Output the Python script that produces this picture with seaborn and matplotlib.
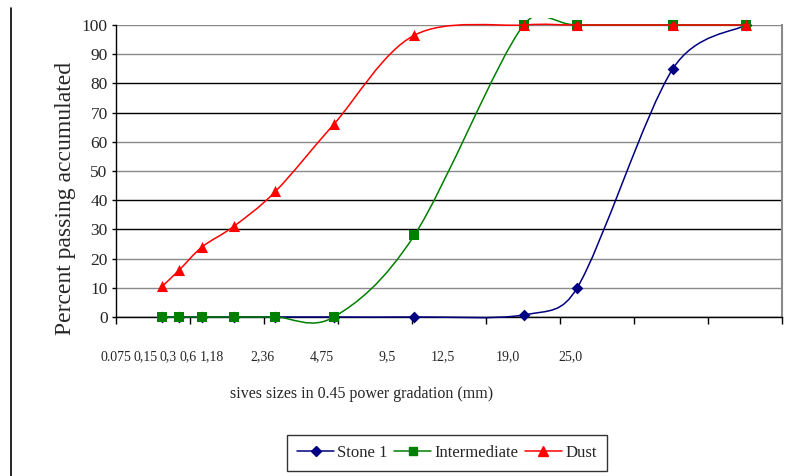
import numpy as np
import matplotlib
matplotlib.use('Agg')
import matplotlib.pyplot as plt
from matplotlib.path import Path
from matplotlib.patches import PathPatch, Rectangle
from matplotlib.lines import Line2D
from matplotlib.ticker import FixedLocator, NullFormatter
import seaborn as sns

# sieve sizes (mm) and percent passing
sizes = [0.075, 0.15, 0.3, 0.6, 1.18, 2.36, 4.75, 9.5, 12.5, 19.0, 25.0]
stone1 = [0, 0, 0, 0, 0, 0, 0, 0.7, 10, 85, 100]
intermediate = [0, 0, 0, 0, 0, 0, 28, 100, 100, 100, 100]
dust = [10.5, 16, 24, 31, 43, 66, 96.5, 100, 100, 100, 100]

tick_labels = ['0.075', '0,15', '0,3', '0,6', '1,18', '2,36', '4,75',
               '9,5', '12,5', '19,0', '25,0']
# where the labels sit, in 0.45-power units (they are shifted in the original)
label_pos = [0.0, 0.20, 0.35, 0.49, 0.65, 0.99, 1.39, 1.83, 2.21, 2.65, 3.07]

POW = 0.45
fwd = lambda x: np.power(np.clip(x, 0, None), POW)
inv = lambda x: np.power(np.clip(x, 0, None), 1 / POW)

sns.set_theme(style='white')
plt.rcParams['font.family'] = ['Liberation Serif', 'DejaVu Serif']

fig = plt.figure(figsize=(7.96, 4.76), dpi=100)
ax = fig.add_axes([116 / 796, 1 - 317 / 476, 666 / 796, 292 / 476])
ax.set_xscale('function', functions=(fwd, inv))
ax.set_xlim(0, inv(4.5))
ax.set_ylim(0, 100)

ax.xaxis.set_major_locator(FixedLocator(inv(np.arange(0, 4.51, 0.5))))
ax.xaxis.set_major_formatter(NullFormatter())
ax.set_yticks(range(0, 101, 10))
ax.tick_params(axis='y', labelsize=12.5, length=3, width=1, color='black',
               direction='out', left=True, pad=3)
ax.tick_params(axis='x', length=5, width=1, color='black', direction='out',
               bottom=True)

ax.yaxis.grid(True, linewidth=1)
grid_cols = ['black', '#8a8a8a', '#8a8a8a', 'black', 'black', '#8a8a8a',
             '#8a8a8a', 'black', 'black', '#8a8a8a', '#8a8a8a']
for gl, c in zip(ax.get_ygridlines(), grid_cols):
    gl.set_color(c)
ax.xaxis.grid(False)

for s in ['left', 'bottom']:
    ax.spines[s].set_color('black')
    ax.spines[s].set_linewidth(1)
ax.spines['right'].set_color('#8a8a8a')
ax.spines['right'].set_linewidth(1.5)
ax.spines['top'].set_visible(False)


def excel_smooth(xs, ys):
    # Excel-like smoothed line: bezier segments built in screen space
    pts = ax.transData.transform(np.column_stack([xs, ys]))
    n = len(pts)
    verts = [pts[0]]
    codes = [Path.MOVETO]
    for i in range(n - 1):
        p0 = pts[i - 1] if i > 0 else pts[i]
        p1, p2 = pts[i], pts[i + 1]
        p3 = pts[i + 2] if i + 2 < n else pts[i + 1]
        d12 = np.hypot(*(p2 - p1))
        d02 = np.hypot(*(p2 - p0))
        d13 = np.hypot(*(p3 - p1))
        f1 = 1 / 6 if d02 / 6 < d12 / 2 else d12 / (2 * d02)
        f2 = 1 / 6 if d13 / 6 < d12 / 2 else d12 / (2 * d13)
        verts += [p1 + (p2 - p0) * f1, p2 - (p3 - p1) * f2, p2]
        codes += [Path.CURVE4] * 3
    return Path(ax.transData.inverted().transform(np.array(verts)), codes)


clip = Rectangle((0, -5), inv(4.5), 107.3, transform=ax.transData)
series = [('Stone 1', stone1, '#000080', 'D', 36),
          ('Intermediate', intermediate, '#008000', 's', 42),
          ('Dust', dust, '#ff0000', '^', 64)]
handles = []
for k, (name, vals, col, mk, ms) in enumerate(series):
    patch = PathPatch(excel_smooth(sizes, vals), facecolor='none',
                      edgecolor=col, linewidth=1.1, zorder=3 + 2 * k)
    ax.add_patch(patch)
    patch.set_clip_path(clip)
    sns.scatterplot(x=sizes, y=vals, ax=ax, marker=mk, s=ms, color=col,
                    linewidth=0, zorder=4 + 2 * k, clip_on=False, legend=False)
    handles.append(Line2D([], [], color=col, marker=mk, linewidth=1.1,
                          markersize=np.sqrt(ms) * 0.9, label=name))

for lab, pos in zip(tick_labels, label_pos):
    ax.text(inv(pos), -0.137, lab, transform=ax.get_xaxis_transform(),
            ha='center', va='center', fontsize=10)

fig.text(362 / 796, 1 - 394 / 476, 'sives sizes in 0.45 power gradation (mm)',
         ha='center', va='center', fontsize=11.5)
fig.text(66 / 796, 1 - 198 / 476, 'Percent passing accumulated',
         ha='center', va='center', rotation=90, fontsize=17)

leg = fig.legend(handles=handles, loc='center',
                 bbox_to_anchor=(447 / 796, 1 - 453 / 476), ncol=3,
                 frameon=True, fancybox=False, fontsize=12, handlelength=2.2,
                 handletextpad=0.2, columnspacing=0.4, borderpad=0.6,
                 borderaxespad=0)
leg.get_frame().set_edgecolor('black')
leg.get_frame().set_linewidth(1)

# page border line on the left
fig.add_artist(Line2D([11 / 796, 11 / 796], [0, 1 - 8 / 476], color='black',
                      linewidth=1.2))

fig.savefig('out.png', dpi=100)
